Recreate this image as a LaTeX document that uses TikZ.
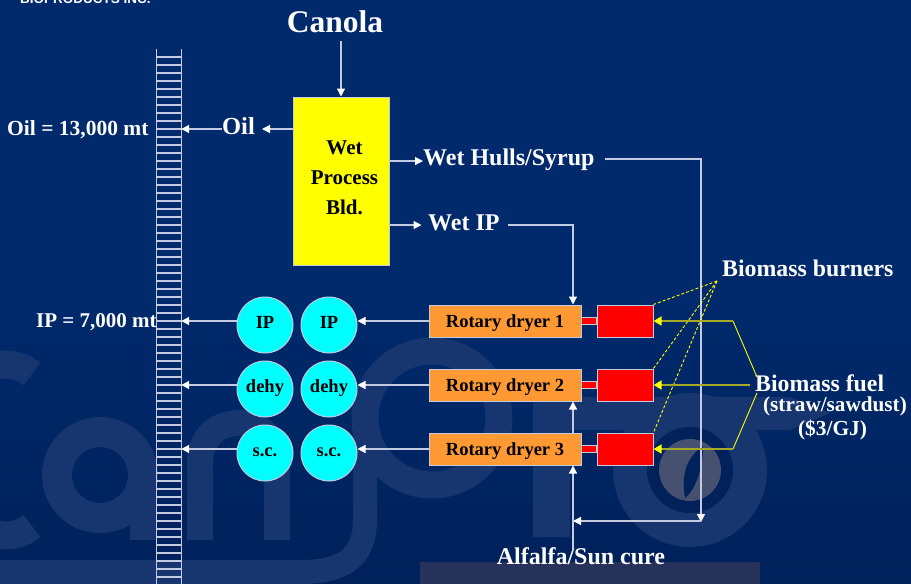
\documentclass[tikz,border=0pt]{standalone}
\usepackage{fontspec}
\setmainfont{Liberation Serif}
\newfontfamily\logofont{Liberation Sans}
\usepackage{xcolor}
\usetikzlibrary{arrows.meta}

\definecolor{navytop}{HTML}{002A6C}
\definecolor{navylow}{HTML}{00215A}
\definecolor{markblue}{HTML}{17356F}
\definecolor{markgrey}{HTML}{27325A}
\definecolor{leafbrown}{HTML}{46506F}
\definecolor{linegrey}{HTML}{C4CADF}
\definecolor{fuelolive}{HTML}{A6A828}
\definecolor{dryerorange}{HTML}{FF9933}
\definecolor{pelletcyan}{HTML}{00FFFF}
\definecolor{wetyellow}{HTML}{FFFF00}
\definecolor{burnerred}{HTML}{FF0000}

\tikzset{
  flow/.style={draw=linegrey, line width=1.2pt, -{Triangle[length=8pt,width=8pt,color=white]}},
  fuelflow/.style={draw=fuelolive, line width=1.3pt, -{Triangle[length=8pt,width=9pt,color=wetyellow]}},
  fuelbend/.style={draw=wetyellow, line width=0.9pt},
  burnerlead/.style={draw=wetyellow, line width=0.9pt, dash pattern=on 3pt off 2pt},
  boxline/.style={draw=linegrey, line width=1pt},
  lightlabel/.style={text=white, font=\bfseries\fontsize{#1}{#1}\selectfont, inner sep=0pt},
  pellet/.style={circle, boxline, fill=pelletcyan, minimum size=56pt, inner sep=0pt, text height=6pt, text depth=0pt,
    text=black, font=\bfseries\fontsize{18.5}{18.5}\selectfont},
  dryer/.style={rectangle, boxline, fill=dryerorange, minimum width=152pt, minimum height=32pt, inner sep=0pt,
    text height=13pt, text depth=0pt, text=black, font=\bfseries\fontsize{18.5}{18.5}\selectfont},
  burner/.style={rectangle, boxline, fill=burnerred, minimum width=56pt, minimum height=32pt, inner sep=0pt}
}

\begin{document}
\begin{tikzpicture}[x=1pt,y=-1pt]
  \useasboundingbox (0,0) rectangle (911,584);

  %% Backdrop: dark slide with the faint logo
  \shade[top color=navytop, bottom color=navylow, middle color=navytop] (0,0) rectangle (911,584);
  \fill[markgrey] (420,562) rectangle (760,584);
  \draw[markblue, line width=28pt] (32,374) .. controls (5,352) and (-45,365) .. (-45,450)
    .. controls (-45,535) and (5,548) .. (32,526);
  \draw[markblue, line width=30pt] (100,475) circle (43);
  \fill[markblue] (130,470) rectangle (157,540);
  \draw[markblue, line width=26pt] (200,540) -- (200,462) .. controls (200,410) and (277,410) ..
    (277,462) -- (277,540);
  \draw[markblue, line width=27pt] (432,418) circle (67);
  \draw[markblue, line width=24pt] (365,418) -- (365,520) .. controls (365,560) and (340,572) ..
    (300,572) -- (-5,572);
  \fill[markblue] (533,397) -- (790,397) -- (830,413) -- (790,430) -- (570,430) -- (570,537) -- (533,537) -- cycle;
  \fill[markblue] (690,470) circle (77);
  \fill[navylow] (690,470) circle (43);
  \fill[leafbrown] (690,470) circle (31);
  \fill[navylow] (685,498) .. controls (680,470) and (690,455) .. (703,446) .. controls (703,470) and (695,490) .. (685,498);

  %% Cut-off heading at the upper edge
  \node[text=white, font=\logofont\bfseries\fontsize{13.5}{13.5}\selectfont, inner sep=0pt, anchor=base west] (company) at (20,3) {BIOPRODUCTS INC.};

  %% Storage ladder
  \node[minimum width=24pt, minimum height=535pt, inner sep=0pt] (ladder) at (169,316.5) {};
  \draw[linegrey, line width=1.2pt] (ladder.north west) -- (ladder.south west);
  \draw[linegrey, line width=1.2pt] (ladder.north east) -- (ladder.south east);
  \foreach \y in {57,65,...,584} {
    \draw[linegrey, line width=1.2pt] (157,\y) -- (181,\y);
  }

  %% Wet process building and its products
  \node[lightlabel=31.5] (canola) at (335,22) {Canola};
  \node[rectangle, boxline, fill=wetyellow, minimum width=96pt, minimum height=168pt, inner sep=0pt] (wet) at (341,181) {};
  \node[text=black, align=center, inner sep=0pt, font=\bfseries\fontsize{21}{30}\selectfont] (wettext) at (344.5,178) {Wet\\Process\\Bld.};
  \node[lightlabel=24.5, text height=15pt, text depth=0pt] (oil) at (238.5,127) {Oil};
  \node[lightlabel=21.5, anchor=base west] (oilstock) at (7,135) {Oil = 13,000 mt};
  \node[lightlabel=24, anchor=base west] (hulls) at (423,165) {Wet Hulls/Syrup};
  \node[lightlabel=24, anchor=base west] (wetip) at (428,230) {Wet IP};
  \node[lightlabel=21, anchor=base west] (ipstock) at (36,327) {IP = 7,000 mt};

  %% One row per dryer: dryer, burner, coupling, two pellet bins
  \foreach \n/\lab/\yc/\ytext in {
       1/IP/325/321,
       2/dehy/389/385,
       3/s.c./453/449
  } {
    \node[pellet] (binb\n) at (265,\yc) {\lab};
    \node[pellet] (bina\n) at (329,\yc) {\lab};
    \node[dryer] (dryer\n) at (505,\ytext) {Rotary dryer \n};
    \node[burner] (burner\n) at (625,\ytext) {};
    \draw[boxline, fill=burnerred] (dryer\n.east |- 0,\ytext-4) rectangle (burner\n.west |- 0,\ytext+3);
    \draw[flow] (dryer\n.west) -- (dryer\n.west -| bina\n.east);
    \draw[flow] (dryer\n.west -| binb\n.west) -- (dryer\n.west -| ladder.east);
  }

  %% Flows
  \coordinate (canolaend) at (341,41);
  \draw[flow] (canolaend) -- (wet.north);
  \draw[flow] (wet.north west |- oil.east) ++(0,2) -- (262,129);
  \coordinate (oilstart) at (oil.west |- 0,129);
  \draw[flow] (oilstart) -- (oilstart -| ladder.east);
  \coordinate (wetgate) at (wet.east |- 0,225);
  \coordinate (hullgate) at (wet.east |- 0,161);
  \draw[flow] (hullgate) -- (hullgate -| hulls.west);
  \draw[flow] (wetgate) -- ++(32,0);
  \coordinate (hullstart) at (605,159);
  \coordinate (hullcorner) at (701,159);
  \coordinate (hullend) at (701,522);
  \coordinate (hulljoin) at (573,521);
  \draw[flow] (hullstart) -- (hullcorner) -- (hullend);
  \draw[flow] (701,521) -- (hulljoin);
  \coordinate (ipstart) at (508,225);
  \draw[flow] (ipstart) -- (573,225) -- (573,304.5);

  \node[lightlabel=24, text height=15pt, text depth=0pt] (alfalfa) at (581,557) {Alfalfa/Sun cure};
  \draw[flow] (alfalfa.north -| hulljoin) -- (hulljoin |- dryer3.south);
  \draw[flow] (hulljoin |- dryer3.north) -- (hulljoin |- dryer2.south);

  %% Biomass labels and their yellow leads
  \node[lightlabel=23.8, anchor=base west] (burners) at (722,276) {Biomass burners};
  \node[lightlabel=23.8, anchor=base west] (fuel) at (755,391) {Biomass fuel};
  \node[lightlabel=21.2, anchor=base] (straw) at (835,411) {(straw/sawdust)};
  \node[lightlabel=21.4, anchor=base] (price) at (832.5,435) {(\$3/GJ)};
  \coordinate (burnerfan) at (717,281);
  \foreach \n in {1,2,3} {
    \draw[burnerlead] (burnerfan) -- (burner\n.north east);
  }
  \coordinate (fuelupper) at (733,321);
  \coordinate (fuellower) at (733,449);
  \coordinate (fueltop) at (757,377);
  \coordinate (fuelbottom) at (757,393);
  \coordinate (fuelmid) at (750,385);
  \draw[fuelbend] (fueltop) -- (fuelupper);
  \draw[fuelbend] (fuelbottom) -- (fuellower);
  \draw[fuelflow] (fuelupper) -- (burner1.east);
  \draw[fuelflow] (fuelmid) -- (burner2.east);
  \draw[fuelflow] (fuellower) -- (burner3.east);
\end{tikzpicture}
\end{document}
